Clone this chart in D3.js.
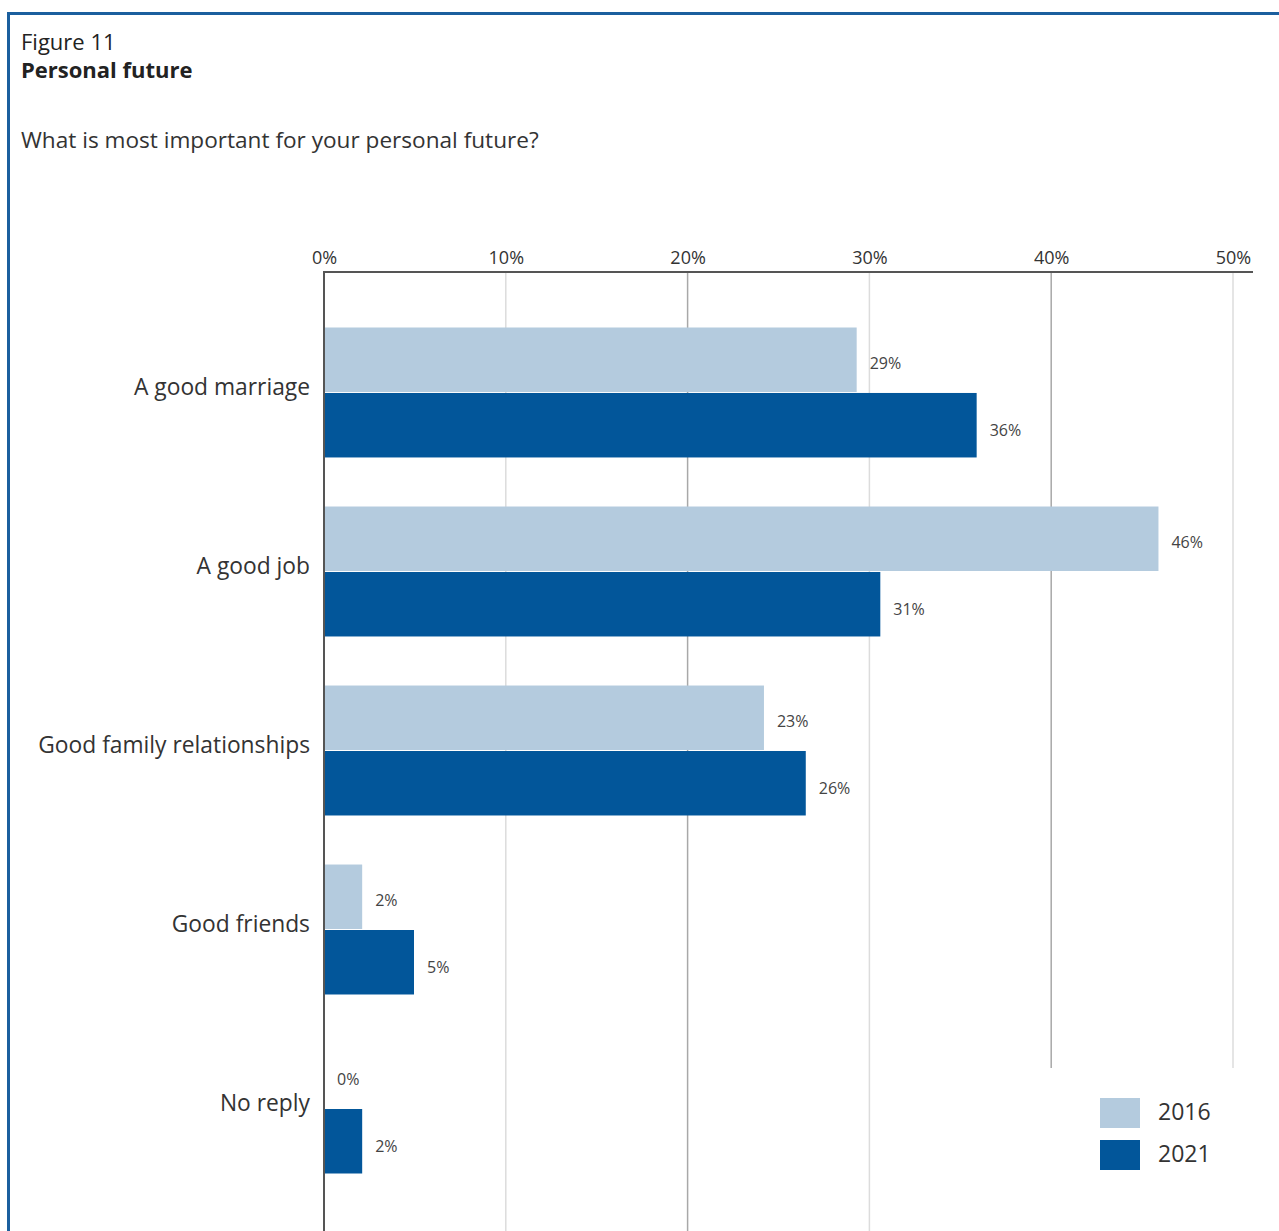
<!DOCTYPE html>
<html>
<head>
<meta charset="utf-8">
<script src="https://cdn.jsdelivr.net/npm/d3@7"></script>
<style>
  html, body { margin: 0; padding: 0; background: #fff; }
  svg { display: block; font-family: "Open Sans", "Noto Sans", sans-serif; }
</style>
</head>
<body>
<script>
const categories = ["A good marriage", "A good job", "Good family relationships", "Good friends", "No reply"];
const seriesNames = ["2016", "2021"];
const values2016 = [29.3, 45.9, 24.2, 2.1, 0];
const values2021 = [35.9, 30.6, 26.5, 4.95, 2.1];
const labels2016 = ["29%", "46%", "23%", "2%", "0%"];
const labels2021 = ["36%", "31%", "26%", "5%", "2%"];
const tickValues = [0, 10, 20, 30, 40, 50];
const tickLabels = ["0%", "10%", "20%", "30%", "40%", "50%"];

const W = 1279, H = 1231;
const colors = { "2016": "#b4cbde", "2021": "#02569a" };

const svg = d3.select("body").append("svg").attr("width", W).attr("height", H);

// frame
svg.append("line").attr("x1", 8).attr("x2", W).attr("y1", 13.5).attr("y2", 13.5)
  .attr("stroke", "#1b5f9e").attr("stroke-width", 3);
svg.append("line").attr("x1", 8.5).attr("x2", 8.5).attr("y1", 12).attr("y2", H)
  .attr("stroke", "#1b5f9e").attr("stroke-width", 3);

// titles
svg.append("text").attr("x", 21).attr("y", 50).attr("font-size", 22).attr("fill", "#222").text("Figure 11");
svg.append("text").attr("x", 21).attr("y", 78).attr("font-size", 22).attr("font-weight", "bold").attr("fill", "#222").text("Personal future");
svg.append("text").attr("x", 21).attr("y", 148).attr("font-size", 22.6).attr("fill", "#333").text("What is most important for your personal future?");

const x = d3.scaleLinear().domain([0, 50]).range([324, 1233]);
const y = d3.scaleBand().domain(categories).range([327.5, 327.5 + 5 * 179 - 49]).paddingInner(0.274).paddingOuter(0);
const ys = d3.scaleBand().domain(seriesNames).range([0, y.bandwidth()]).paddingInner(0.015);

// gridlines
const gridEnd = { 0: H, 10: H, 20: H, 30: H, 40: 1068, 50: 1068 };
const gridColor = { 10: "#dcdcdc", 20: "#a8a8a8", 30: "#dcdcdc", 40: "#a8a8a8", 50: "#dcdcdc" };
svg.append("g").selectAll("line").data(tickValues.filter(d => d > 0)).join("line")
  .attr("x1", d => x(d)).attr("x2", d => x(d))
  .attr("y1", 272).attr("y2", d => gridEnd[d])
  .attr("stroke", d => gridColor[d]).attr("stroke-width", 1.5);

// bars
const rows = categories.map((c, i) => ({ c, s: [
  { k: "2016", v: values2016[i], l: labels2016[i] },
  { k: "2021", v: values2021[i], l: labels2021[i] }
]}));
const g = svg.append("g").selectAll("g").data(rows).join("g")
  .attr("transform", d => `translate(0,${y(d.c)})`);
g.selectAll("rect").data(d => d.s).join("rect")
  .attr("x", x(0)).attr("y", d => ys(d.k))
  .attr("width", d => x(d.v) - x(0)).attr("height", ys.bandwidth())
  .attr("fill", d => colors[d.k]);
g.selectAll("text").data(d => d.s).join("text")
  .attr("x", d => x(d.v) + 13).attr("y", d => ys(d.k) + ys.bandwidth() / 2 + (d.k === "2016" ? 3 : 5))
  .attr("dominant-baseline", "central")
  .attr("font-size", 16).attr("fill", "#444").text(d => d.l);

// category labels
svg.append("g").selectAll("text").data(categories).join("text")
  .attr("x", 310).attr("y", d => y(d) + y.bandwidth() / 2 - 6)
  .attr("text-anchor", "end").attr("dominant-baseline", "central")
  .attr("font-size", 22.8).attr("fill", "#333").text(d => d);

// top axis
const axis = d3.axisTop(x).tickValues(tickValues).tickFormat((d, i) => tickLabels[i]).tickSize(0).tickPadding(8);
const ag = svg.append("g").attr("transform", "translate(0,272)").call(axis);
ag.select(".domain").attr("stroke", "#555").attr("stroke-width", 2).attr("d", `M${x(0)},0H1253`);
ag.selectAll("text").attr("font-size", 18).attr("fill", "#333").attr("font-family", "'Open Sans', sans-serif");

// left axis
svg.append("line").attr("x1", x(0)).attr("x2", x(0)).attr("y1", 271).attr("y2", H)
  .attr("stroke", "#555").attr("stroke-width", 2);

// legend
const lg = svg.append("g").selectAll("g").data(seriesNames).join("g")
  .attr("transform", (d, i) => `translate(1100,${1098 + i * 42})`);
lg.append("rect").attr("width", 40).attr("height", 30).attr("fill", d => colors[d]);
lg.append("text").attr("x", 58).attr("y", 13).attr("dominant-baseline", "central")
  .attr("font-size", 23).attr("fill", "#333").text(d => d);
</script>
</body>
</html>
